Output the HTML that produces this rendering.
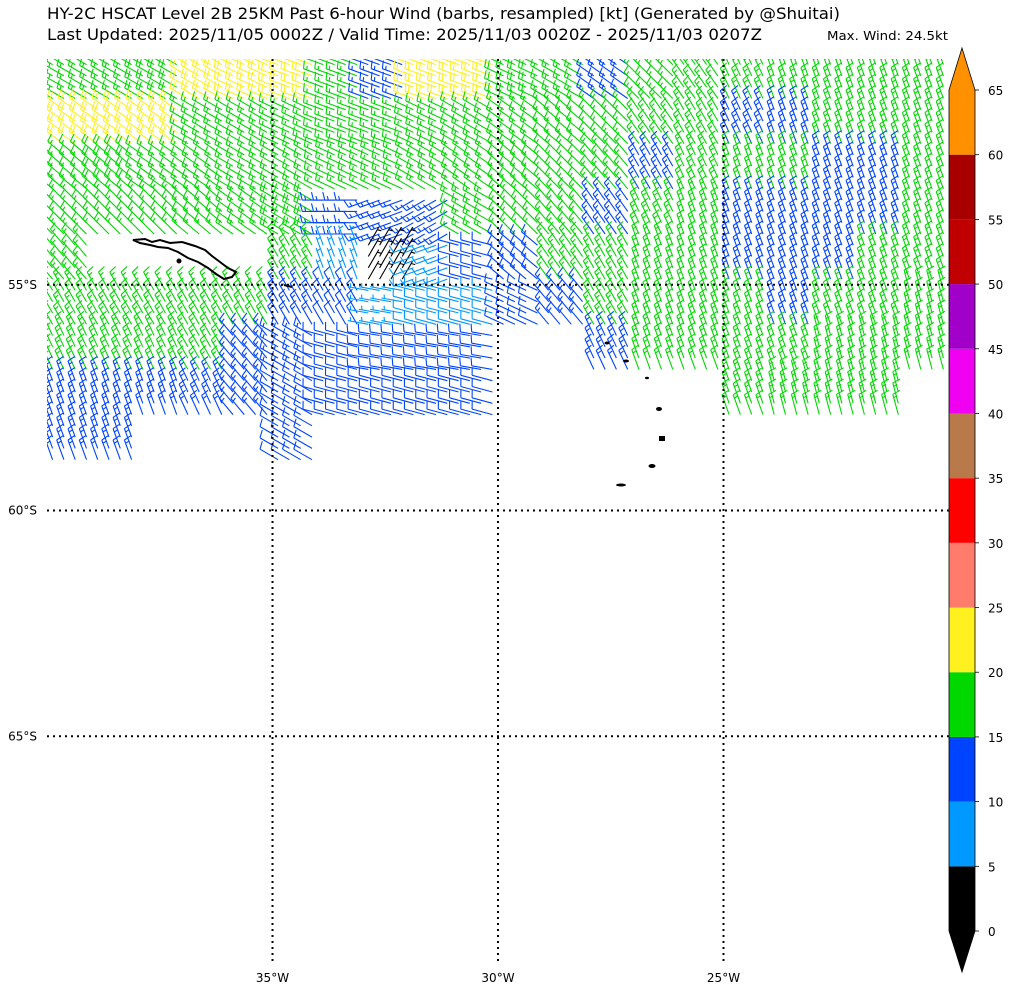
<!DOCTYPE html>
<html><head><meta charset="utf-8"><style>
body{margin:0;background:#fff;}
svg{display:block;font-family:"DejaVu Sans","Liberation Sans",sans-serif;}
</style></head><body>
<svg id="chart" width="1009" height="989" viewBox="0 0 1009 989">
<defs><clipPath id="mapclip"><rect x="47" y="59" width="902" height="903"/></clipPath></defs>
<text x="47" y="19" font-size="16" textLength="793" lengthAdjust="spacingAndGlyphs">HY-2C HSCAT Level 2B 25KM Past 6-hour Wind (barbs, resampled) [kt] (Generated by @Shuitai)</text>
<text x="47" y="40" font-size="16" textLength="715" lengthAdjust="spacingAndGlyphs">Last Updated: 2025/11/05 0002Z / Valid Time: 2025/11/03 0020Z - 2025/11/03 0207Z</text>
<text x="827" y="40" font-size="12" textLength="121" lengthAdjust="spacingAndGlyphs">Max. Wind: 24.5kt</text>
<g id="barbs" clip-path="url(#mapclip)"></g>
<g id="coast" fill="none" stroke="#000" stroke-width="2">
<path d="M133,240 L145,239 L152,242 L160,240 L170,243 L182,242 L195,246 L205,250 L212,256 L220,262 L228,268 L236,272 L232,277 L224,279 L216,274 L208,268 L198,262 L188,258 L178,252 L168,248 L158,247 L150,245 L140,243 Z"/>
<circle cx="179" cy="261" r="1.5" fill="#000"/>
<path d="M284,285 L292,287"/>
<g fill="#000" stroke="none">
<ellipse cx="607" cy="343" rx="2.5" ry="1.5"/><ellipse cx="626" cy="361" rx="3" ry="1.5"/><ellipse cx="647" cy="378" rx="2" ry="1.2"/><ellipse cx="659" cy="409" rx="3" ry="2"/><rect x="659" y="436" width="6" height="5"/><ellipse cx="652" cy="466" rx="3.5" ry="2"/><ellipse cx="621" cy="485" rx="5" ry="1.5"/>
</g>
</g>
<g id="grid" stroke="#000" stroke-width="2" stroke-dasharray="2,4"></g>
<g id="labels" font-size="12"></g>
<g id="cbar"></g>
</svg>
<script>
const lonMin=-40, lonMax=-20, latTop=-50, latBot=-70;
const X0=47, X1=949, Y0=59, Y1=962;
function xs(lon){return X0+(lon-lonMin)/(lonMax-lonMin)*(X1-X0);}
function ys(lat){return Y0+(latTop-lat)/(latTop-latBot)*(Y1-Y0);}

// 1-degree cells, rows from 50S southward, columns from 40W eastward; speed in kt (0 = no data)
const speedRows=[
[17,17,18,21,22,21,17,14,21,21,19,16,14,16,17,17,17,17,17,17],
[21,21,21,17,17,17,17,17,17,17,17,17,17,17,17,14,14,16,17,17],
[17,18,17,17,17,17,17,17,17,17,17,17,17,14,17,17,17,14,14,17],
[17,17,17,17,17,18,13,13,13,16,17,17,14,17,17,14,14,14,14,17],
[17,0,0,0,0,16,6,3,8,12,14,17,16,17,17,14,14,14,17,17],
[17,17,17,17,16,13,11,5,8,8,10,13,16,16,17,15,14,17,17,17],
[15,16,16,15,13,13,11,10,10,10,0,0,14,16,17,17,17,17,17,17],
[13,13,13,13,13,10,11,12,12,12,0,0,0,0,0,17,17,17,17,0],
[13,13,0,0,0,12,0,0,0,0,0,0,0,0,0,0,0,0,0,0]
];
// direction wind comes from (deg)
const dirRows=[
[300,300,300,300,295,290,290,290,290,290,295,300,305,315,325,335,340,340,340,340],
[305,305,305,300,300,295,290,290,295,300,305,310,315,325,330,335,340,340,340,340],
[310,310,305,305,300,300,295,295,300,305,310,315,320,330,335,340,340,340,340,340],
[315,315,315,310,305,300,270,250,240,300,315,320,325,335,340,340,340,340,340,340],
[320,0,0,0,0,330,340,30,250,285,310,325,330,340,340,340,340,340,340,340],
[330,330,330,330,330,330,330,280,285,285,295,320,330,340,340,340,340,340,340,345],
[335,335,335,330,320,300,285,280,280,280,0,0,335,340,340,340,340,345,345,345],
[340,340,340,335,320,300,285,285,285,285,0,0,0,0,0,340,345,345,345,0],
[340,340,0,0,0,300,0,0,0,0,0,0,0,0,0,0,0,0,0,0]
];
const cbLevels=[0,5,10,15,20,25,30,35,40,45,50,55,60,65];
const cbColors=["#000000","#0099ff","#0044ff","#00d800","#fff020","#ff7b6b","#ff0000","#b87a4a","#f000f0","#a000c8","#c00000","#a80000","#ff9000"];
const lonTicks=[-35,-30,-25];
const lonLabels=["35°W","30°W","25°W"];
const latTicks=[-55,-60,-65];
const latLabels=["55°S","60°S","65°S"];

const NS="http://www.w3.org/2000/svg";
function mk(tag,attrs,parent){const e=document.createElementNS(NS,tag);for(const k in attrs)e.setAttribute(k,attrs[k]);parent.appendChild(e);return e;}
function colorFor(s){let i=Math.floor(s/5);if(i<0)i=0;if(i>12)i=12;return cbColors[i];}

const bg=document.getElementById('barbs');
const L=21, step=0.25;
for(let j=0;j<speedRows.length;j++){
  for(let i=0;i<speedRows[j].length;i++){
    const s=speedRows[j][i]; if(!s) continue;
    const d=dirRows[j][i]*Math.PI/180;
    const ux=Math.sin(d), uy=-Math.cos(d);
    const px=-uy, py=ux;
    const col=colorFor(s);
    for(let a=0;a<4;a++)for(let b=0;b<4;b++){
      const lon=lonMin+i+(a+0.5)*step, lat=latTop-j-(b+0.5)*step;
      const x=xs(lon), y=ys(lat);
      const r=Math.round(s/5)*5;
      if(s<2.5){
        const c=mk('circle',{cx:x,cy:y,r:3.5,fill:'none',stroke:col,'stroke-width':1.3},bg);
        
        
        continue;
      }
      const tx=x+ux*L, ty=y+uy*L;
      let path=`M${x.toFixed(1)},${y.toFixed(1)}L${tx.toFixed(1)},${ty.toFixed(1)}`;
      let full=Math.floor(r/10), half=(r%10)>=5?1:0, pos=0;
      if(full===0&&half) pos=3;
      for(let f=0;f<full;f++){
        const bx=tx-ux*pos, by=ty-uy*pos;
        path+=`M${bx.toFixed(1)},${by.toFixed(1)}l${(px*8+ux*2).toFixed(1)},${(py*8+uy*2).toFixed(1)}`;
        pos+=3.5;
      }
      if(half){
        const bx=tx-ux*pos, by=ty-uy*pos;
        path+=`M${bx.toFixed(1)},${by.toFixed(1)}l${(px*4+ux*1).toFixed(1)},${(py*4+uy*1).toFixed(1)}`;
      }
      const p=mk('path',{d:path,fill:'none',stroke:col,'stroke-width':1.1},bg);
      
      
    }
  }
}

const gg=document.getElementById('grid');
const lg=document.getElementById('labels');
lonTicks.forEach((v,k)=>{
  const x=xs(v);
  const l=mk('line',{x1:x,y1:Y0,x2:x,y2:Y1},gg);
  
  
  const t=mk('text',{x:x,y:982,'text-anchor':'middle'},lg);
  t.textContent=lonLabels[k];
  
  
});
latTicks.forEach((v,k)=>{
  const y=ys(v);
  const l=mk('line',{x1:X0,y1:y,x2:X1,y2:y},gg);
  
  
  const t=mk('text',{x:37,y:y+4,'text-anchor':'end'},lg);
  t.textContent=latLabels[k];
  
  
});

// colorbar
const cb=document.getElementById('cbar');
const CX0=949, CX1=975, CY0=931, CY1=90;
function cy(v){return CY0+(v-0)/(65-0)*(CY1-CY0);}
for(let k=0;k<cbColors.length;k++){
  const yTop=cy(cbLevels[k+1]), yBot=cy(cbLevels[k]);
  const r=mk('rect',{x:CX0,y:yTop,width:CX1-CX0,height:yBot-yTop,fill:cbColors[k]},cb);
  
  
}
const tt=mk('polygon',{points:`${CX0},${CY1} ${CX1},${CY1} ${(CX0+CX1)/2},48`,fill:cbColors[12]},cb);


const tb=mk('polygon',{points:`${CX0},${CY0} ${CX1},${CY0} ${(CX0+CX1)/2},972`,fill:cbColors[0]},cb);


const ob=mk('polygon',{points:`${(CX0+CX1)/2},48 ${CX1},${CY1} ${CX1},${CY0} ${(CX0+CX1)/2},972 ${CX0},${CY0} ${CX0},${CY1}`,fill:'none',stroke:'#000','stroke-width':0.8},cb);


cbLevels.forEach(v=>{
  const y=cy(v);
  const tk=mk('line',{x1:CX1,y1:y,x2:CX1+4,y2:y,stroke:'#000','stroke-width':0.8},cb);
  
  
  const t=mk('text',{x:988,y:y+5,'font-size':12},cb);
  t.textContent=String(v);
  
  
});
</script>
</body></html>
